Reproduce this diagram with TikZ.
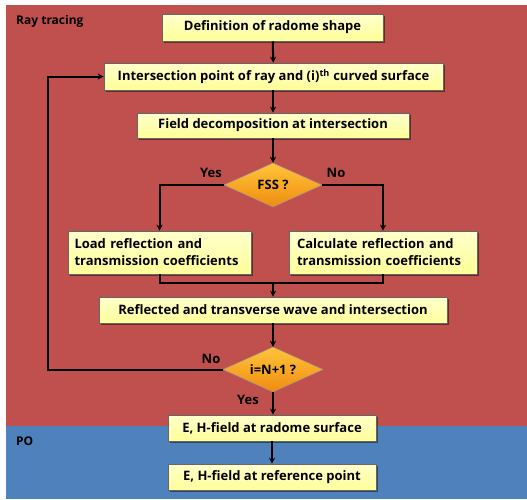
\documentclass[tikz,border=0pt]{standalone}
\usepackage{fontspec}
\setmainfont{Open Sans}
\usetikzlibrary{shapes.geometric,shadows,arrows.meta}
\definecolor{rtred}{HTML}{C0504D}
\definecolor{poblue}{HTML}{4F81BD}
\definecolor{boxtop}{HTML}{FFFFCC}
\definecolor{boxbot}{HTML}{FFFF99}
\definecolor{dtop}{HTML}{FFC43A}
\definecolor{dbot}{HTML}{F08C10}
\tikzset{
  procbox/.style={draw=black!60, line width=0.6pt, top color=boxtop, bottom color=boxbot,
    inner sep=0pt, font=\bfseries\fontsize{13}{15}\selectfont,
    drop shadow={shadow xshift=1.5pt, shadow yshift=-1.5pt, opacity=0.45, fill=black}},
  decbox/.style={diamond, draw=black!40, line width=0.5pt, top color=dtop, bottom color=dbot,
    inner sep=0pt, aspect=2.2, font=\bfseries\fontsize{13}{15}\selectfont},
  flow/.style={line width=2pt, -{Stealth[length=6pt,width=6pt]}},
  flowline/.style={line width=2pt},
  lbl/.style={font=\bfseries\fontsize{13}{15}\selectfont, inner sep=0pt},
  region/.style={font=\bfseries\fontsize{12}{14}\selectfont, inner sep=0pt, anchor=west}
}
\begin{document}
\begin{tikzpicture}[x=1pt,y=-1pt]
\useasboundingbox (0,0) rectangle (527,499);
\fill[white] (0,0) rectangle (527,499);
\fill[rtred] (6,5) rectangle (527,426);
\fill[poblue] (6,426) rectangle (527,499);
\node[region] (rt) at (16,21) {Ray tracing};
\node[region] (po) at (16,441) {PO};

\node[procbox, minimum width=221pt, minimum height=27pt] (b1) at (272.5,27.5) {Definition of radome shape};
\node[procbox, minimum width=339pt, minimum height=27pt] (b2) at (273.5,76.5) {Intersection point of ray and (i)\textsuperscript{th} curved surface};
\node[procbox, minimum width=272pt, minimum height=25pt] (b3) at (273,125.5) {Field decomposition at intersection};
\node[decbox, minimum width=98pt, minimum height=44pt] (fss) at (273,185) {FSS ?};
\node[procbox, minimum width=183pt, minimum height=43pt, align=left, text width=170pt, font=\bfseries\fontsize{13}{17}\selectfont] (load) at (159.5,252.5) {Load reflection and\\transmission coefficients};
\node[procbox, minimum width=188pt, minimum height=43pt, align=left, text width=172pt, font=\bfseries\fontsize{13}{17}\selectfont] (calc) at (383,252.5) {Calculate reflection and\\transmission coefficients};
\node[procbox, minimum width=348pt, minimum height=26pt] (refl) at (273,310) {Reflected and transverse wave and intersection};
\node[decbox, minimum width=100pt, minimum height=45pt] (cnt) at (273,369.5) {i=N+1 ?};
\node[procbox, minimum width=208pt, minimum height=26pt] (ehs) at (272,428) {E, H-field at radome surface};
\node[procbox, minimum width=208pt, minimum height=26pt] (ehr) at (272,477) {E, H-field at reference point};

\coordinate (merge) at (273,283);
\coordinate (loopx) at (48,369.5);

\draw[flow] (b1) -- (b2);
\draw[flow] (b2.south -| b3.north) -- (b3);
\draw[flow] (b3) -- (fss);
\draw[flow] (fss.west) -| (load.north);
\draw[flow] (fss.east) -| (calc.north);
\draw[flowline] (load.south) |- (merge) -| (calc.south);
\draw[flow] (merge) -- (refl.north);
\draw[flow] (refl) -- (cnt);
\draw[flow] (cnt.west) -- (loopx) |- (b2.west);
\draw[flow] (cnt.south) -- (cnt.south |- ehs.north);
\draw[flow] (ehs.south -| ehr.north) -- (ehr);

\node[lbl] (yes1) at (211,173) {Yes};
\node[lbl] (no1) at (336,173) {No};
\node[lbl] (no2) at (211,359) {No};
\node[lbl] (yes2) at (248,400) {Yes};
\end{tikzpicture}
\end{document}
